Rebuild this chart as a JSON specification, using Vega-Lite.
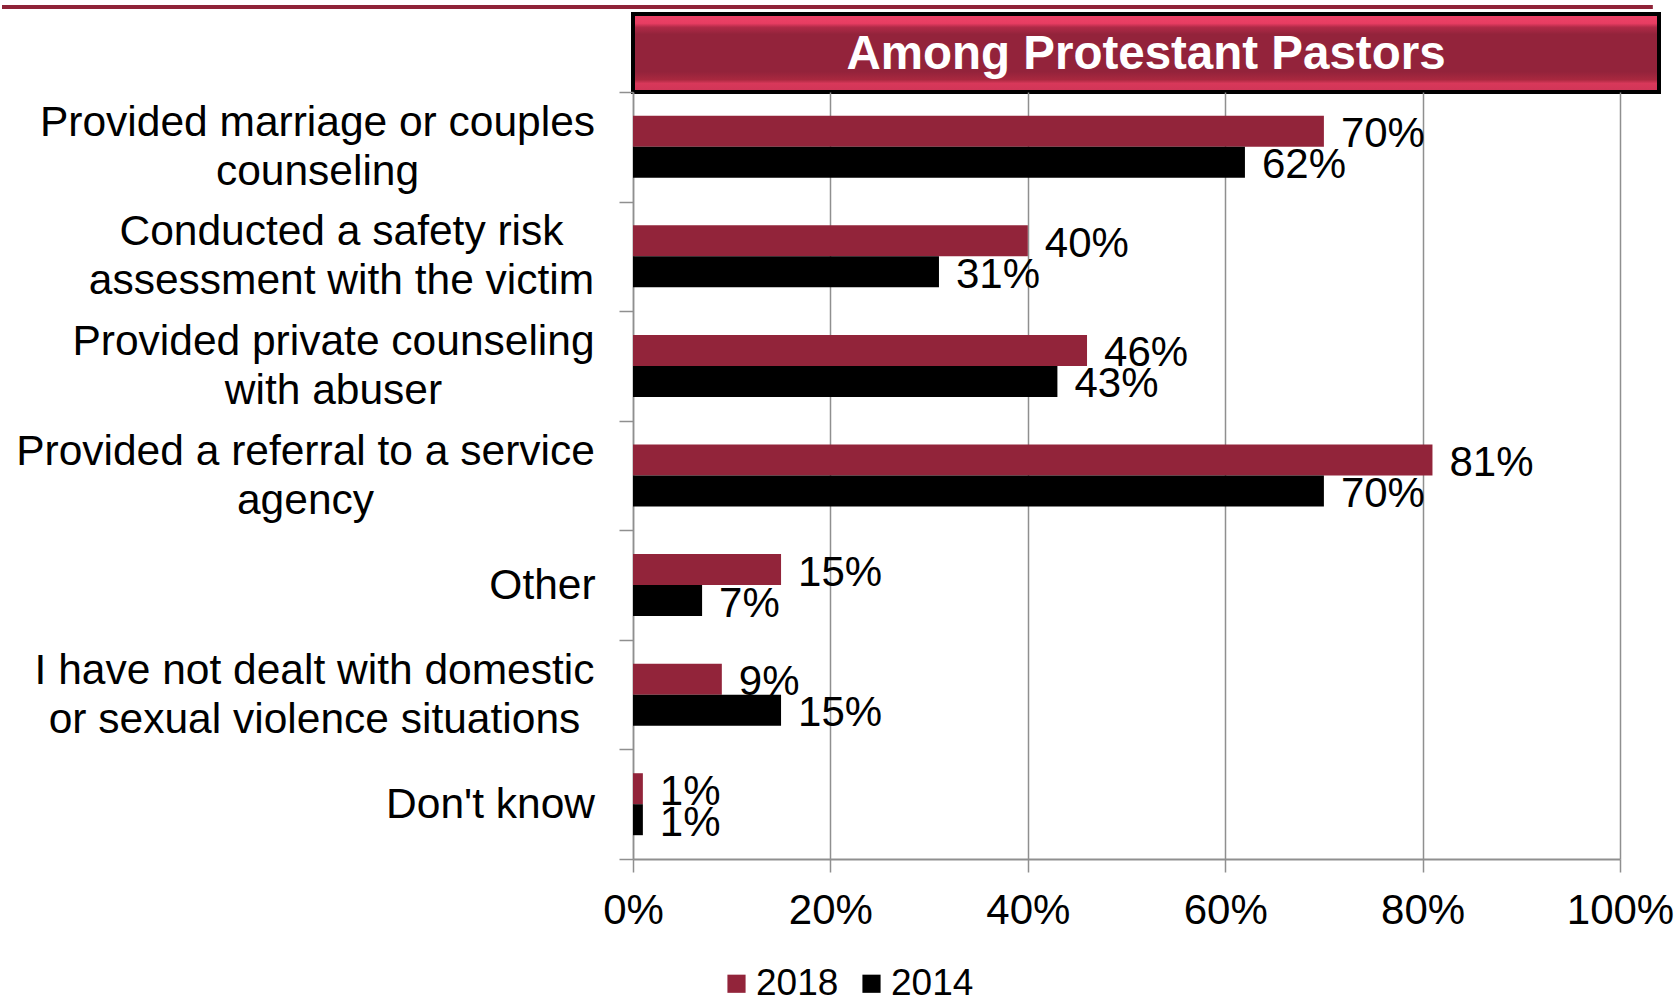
{
  "$schema": "https://vega.github.io/schema/vega-lite/v6.json",
  "padding": {"left": 0, "top": 4, "right": 5, "bottom": 0},
  "background": "white",
  "config": {"view": {"stroke": null}, "font": "Liberation Sans"},
  "spacing": 0,
  "bounds": "flush",
  "resolve": {
    "scale": {"x": "independent", "y": "independent"},
    "axis": {"x": "independent", "y": "independent"},
    "legend": {"color": "independent"}
  },
  "vconcat": [
    {
      "width": 1026,
      "height": 78,
      "data": {"values": [{"title": "Among Protestant Pastors"}]},
      "layer": [
        {
          "mark": {"type": "rule", "color": "#8f2338", "strokeWidth": 4},
          "encoding": {
            "x": {"datum": -0.615, "type": "quantitative", "scale": {"domain": [0, 1], "nice": false, "zero": false}, "axis": null},
            "x2": {"datum": 0.994},
            "y": {"datum": 1.09, "type": "quantitative", "scale": {"domain": [0, 1], "nice": false, "zero": false}, "axis": null}
          }
        },
        {
          "mark": {
            "type": "rect",
            "stroke": "black",
            "strokeWidth": 4,
            "fill": {
              "gradient": "linear",
              "x1": 0, "y1": 0, "x2": 0, "y2": 1,
              "stops": [
                {"offset": 0, "color": "#ee4468"},
                {"offset": 0.12, "color": "#e83d62"},
                {"offset": 0.17, "color": "#b02a47"},
                {"offset": 0.26, "color": "#93233b"},
                {"offset": 0.74, "color": "#93233b"},
                {"offset": 0.84, "color": "#a8283f"},
                {"offset": 0.89, "color": "#d8385a"},
                {"offset": 1, "color": "#cf3557"}
              ]
            }
          },
          "encoding": {}
        },
        {
          "mark": {"type": "text", "color": "white", "fontSize": 47.5, "fontWeight": "bold", "align": "center", "baseline": "middle", "dy": 2, "font": "Liberation Sans"},
          "encoding": {"text": {"field": "title", "type": "nominal"}}
        }
      ]
    },
    {
      "width": 987,
      "height": 767,
      "data": {
        "values": [
          {"item": "Provided marriage or couples\ncounseling", "year": "2018", "pct": 0.70},
          {"item": "Provided marriage or couples\ncounseling", "year": "2014", "pct": 0.62},
          {"item": "Conducted a safety risk\nassessment with the victim", "year": "2018", "pct": 0.40},
          {"item": "Conducted a safety risk\nassessment with the victim", "year": "2014", "pct": 0.31},
          {"item": "Provided private counseling\nwith abuser", "year": "2018", "pct": 0.46},
          {"item": "Provided private counseling\nwith abuser", "year": "2014", "pct": 0.43},
          {"item": "Provided a referral to a service\nagency", "year": "2018", "pct": 0.81},
          {"item": "Provided a referral to a service\nagency", "year": "2014", "pct": 0.70},
          {"item": "Other", "year": "2018", "pct": 0.15},
          {"item": "Other", "year": "2014", "pct": 0.07},
          {"item": "I have not dealt with domestic\nor sexual violence situations", "year": "2018", "pct": 0.09},
          {"item": "I have not dealt with domestic\nor sexual violence situations", "year": "2014", "pct": 0.15},
          {"item": "Don't know", "year": "2018", "pct": 0.01},
          {"item": "Don't know", "year": "2014", "pct": 0.01}
        ]
      },
      "encoding": {
        "y": {
          "field": "item",
          "type": "nominal",
          "sort": null,
          "scale": {"paddingInner": 0, "paddingOuter": 0},
          "axis": {
            "title": null,
            "labelExpr": "split(datum.label, '\\n')",
            "labelFontSize": 42.5,
            "labelLineHeight": 49,
            "labelColor": "black",
            "labelFont": "Liberation Sans",
            "labelAlign": "center",
            "labelBaseline": "middle",
            "labelLimit": 2000,
            "labelPadding": {
              "condition": [
                {"test": "datum.value == 'Provided marriage or couples\\ncounseling'", "value": 302},
                {"test": "datum.value == 'Conducted a safety risk\\nassessment with the victim'", "value": 278},
                {"test": "datum.value == 'Provided private counseling\\nwith abuser'", "value": 286},
                {"test": "datum.value == 'Provided a referral to a service\\nagency'", "value": 314},
                {"test": "datum.value == 'Other'", "value": 77},
                {"test": "datum.value == 'I have not dealt with domestic\\nor sexual violence situations'", "value": 305}
              ],
              "value": 129
            },
            "labelOffset": {
              "condition": [
                {"test": "datum.value == 'Provided marriage or couples\\ncounseling'", "value": -24.5},
                {"test": "datum.value == 'Conducted a safety risk\\nassessment with the victim'", "value": -24.5},
                {"test": "datum.value == 'Provided private counseling\\nwith abuser'", "value": -24.5},
                {"test": "datum.value == 'Provided a referral to a service\\nagency'", "value": -24.5},
                {"test": "datum.value == 'I have not dealt with domestic\\nor sexual violence situations'", "value": -24.5}
              ],
              "value": 0
            },
            "tickBand": "extent",
            "tickSize": 14,
            "tickColor": "#8f8f8f",
            "tickWidth": 1.5,
            "domainColor": "#8f8f8f",
            "domainWidth": 1.5,
            "grid": false
          }
        },
        "yOffset": {
          "field": "year",
          "type": "nominal",
          "sort": ["2018", "2014"],
          "scale": {"paddingInner": 0, "paddingOuter": 0.768}
        },
        "x": {
          "field": "pct",
          "type": "quantitative",
          "scale": {"domain": [0, 1], "nice": false},
          "axis": {
            "title": null,
            "values": [0, 0.2, 0.4, 0.6, 0.8, 1],
            "format": ".0%",
            "grid": true,
            "gridColor": "#8f8f8f",
            "gridWidth": 1.5,
            "domainColor": "#8f8f8f",
            "domainWidth": 2,
            "tickColor": "#8f8f8f",
            "tickWidth": 1.5,
            "tickSize": 13,
            "labelFontSize": 42,
            "labelFont": "Liberation Sans",
            "labelColor": "black",
            "labelPadding": 18,
            "labelFlush": false,
            "labelOverlap": false
          }
        }
      },
      "layer": [
        {
          "mark": {"type": "bar"},
          "encoding": {
            "color": {
              "field": "year",
              "type": "nominal",
              "scale": {"domain": ["2018", "2014"], "range": ["#92243a", "#000000"]},
              "legend": {
                "orient": "none",
                "legendX": 85,
                "legendY": 873,
                "direction": "horizontal",
                "title": null,
                "symbolType": "square",
                "symbolSize": 330,
                "symbolStrokeWidth": 0,
                "labelFontSize": 37,
                "labelFont": "Liberation Sans",
                "labelColor": "black",
                "labelOffset": 1,
                "columnPadding": 14,
                "padding": 0
              }
            }
          }
        },
        {
          "mark": {"type": "text", "align": "left", "baseline": "middle", "dx": 17, "dy": 3, "fontSize": 42, "color": "black", "font": "Liberation Sans"},
          "encoding": {"text": {"field": "pct", "type": "quantitative", "format": ".0%"}}
        }
      ]
    }
  ]
}
